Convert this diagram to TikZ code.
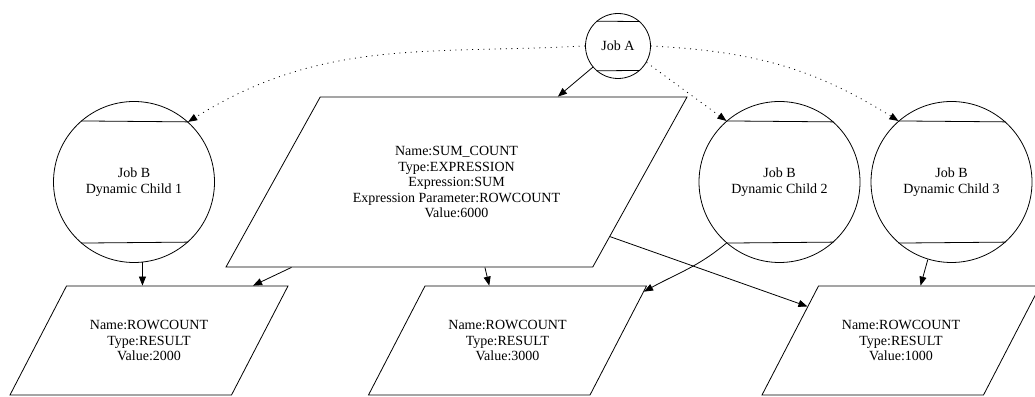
\documentclass[tikz,border=0pt]{standalone}
\usepackage{fontspec}
\setmainfont{Liberation Serif}
\usetikzlibrary{shapes.geometric, arrows.meta, calc}

\begin{document}
\begin{tikzpicture}[x=1pt, y=1pt,
        every node/.style={font=\fontsize{14}{15.5}\selectfont},
        jobcirc/.style={circle, draw, line width=0.8pt, align=center,
                        inner sep=0pt},
        para/.style={trapezium, draw, line width=0.8pt, align=center,
                     inner xsep=0pt, trapezium stretches body},
        arr/.style={-{Triangle[length=9pt,width=7pt]}, line width=0.8pt},
        dep/.style={arr, dash pattern=on 1pt off 4.6pt}]
        \useasboundingbox (0,0) rectangle (1035,396);
        % jobs
        \node[jobcirc, minimum size=65pt] (jobA) at (618, 350) {Job A};
        \node[jobcirc, minimum size=161pt] (childA) at (134, 214)
              {Job B\\Dynamic Child 1};
        \node[jobcirc, minimum size=161pt] (childB) at (779.5, 214)
              {Job B\\Dynamic Child 2};
        \node[jobcirc, minimum size=161pt] (childC) at (951.5, 214)
              {Job B\\Dynamic Child 3};
        \foreach \n in {jobA, childA, childB, childC}
          \draw[line width=0.8pt] (\n.48.5) -- (\n.131.5)
                                  (\n.-48.5) -- (\n.-131.5);
        % variables
        \node[para, trapezium left angle=61, trapezium right angle=119,
              inner ysep=49.25pt, minimum width=461pt]
              (sum) at (456.5, 214)
              {Name:SUM\_COUNT\\Type:EXPRESSION\\Expression:SUM\\
               Expression Parameter:ROWCOUNT\\Value:6000};
        \node[para, trapezium left angle=62.6, trapezium right angle=117.4,
              inner ysep=34.25pt, minimum width=278pt]
              (res2000) at (149, 55.5)
              {Name:ROWCOUNT\\Type:RESULT\\Value:2000};
        \node[para, trapezium left angle=62.6, trapezium right angle=117.4,
              inner ysep=34.25pt, minimum width=278pt]
              (res3000) at (507.5, 55.5)
              {Name:ROWCOUNT\\Type:RESULT\\Value:3000};
        \node[para, trapezium left angle=62.6, trapezium right angle=117.4,
              inner ysep=34.25pt, minimum width=278pt]
              (res1000) at (901, 55.5)
              {Name:ROWCOUNT\\Type:RESULT\\Value:1000};
        % dependencies
        \draw[arr] (jobA) -- (sum);
        \draw[dep] (jobA.west) to[out=183, in=32] (childA.48.5);
        \draw[dep] (jobA.-30) -- (childB.131.5);
        \draw[dep] (jobA.east) to[out=-3, in=148] (childC.131.5);
        \draw[arr] (childA.-84) -- (childA.-84 |- res2000.north);
        \draw[arr] ($(sum.bottom left corner)!0.18!(sum.bottom right corner)$)
                -- ($(res2000.top left corner)!0.84!(res2000.top right corner)$);
        \draw[arr] ($(sum.bottom left corner)!0.706!(sum.bottom right corner)$)
                -- ($(res3000.top left corner)!0.29!(res3000.top right corner)$);
        \draw[arr] ($(sum.top right corner)!0.82!(sum.bottom right corner)$)
                -- ($(res1000.top left corner)!0.19!(res1000.bottom left corner)$);
        \draw[arr] (childB.-131.5) to[out=220, in=29]
                ($(res3000.top right corner)!0.055!(res3000.bottom right corner)$);
        \draw[arr] (childC.-107.5)
                -- ($(res1000.top left corner)!0.46!(res1000.top right corner)$);
      \end{tikzpicture}
\end{document}
